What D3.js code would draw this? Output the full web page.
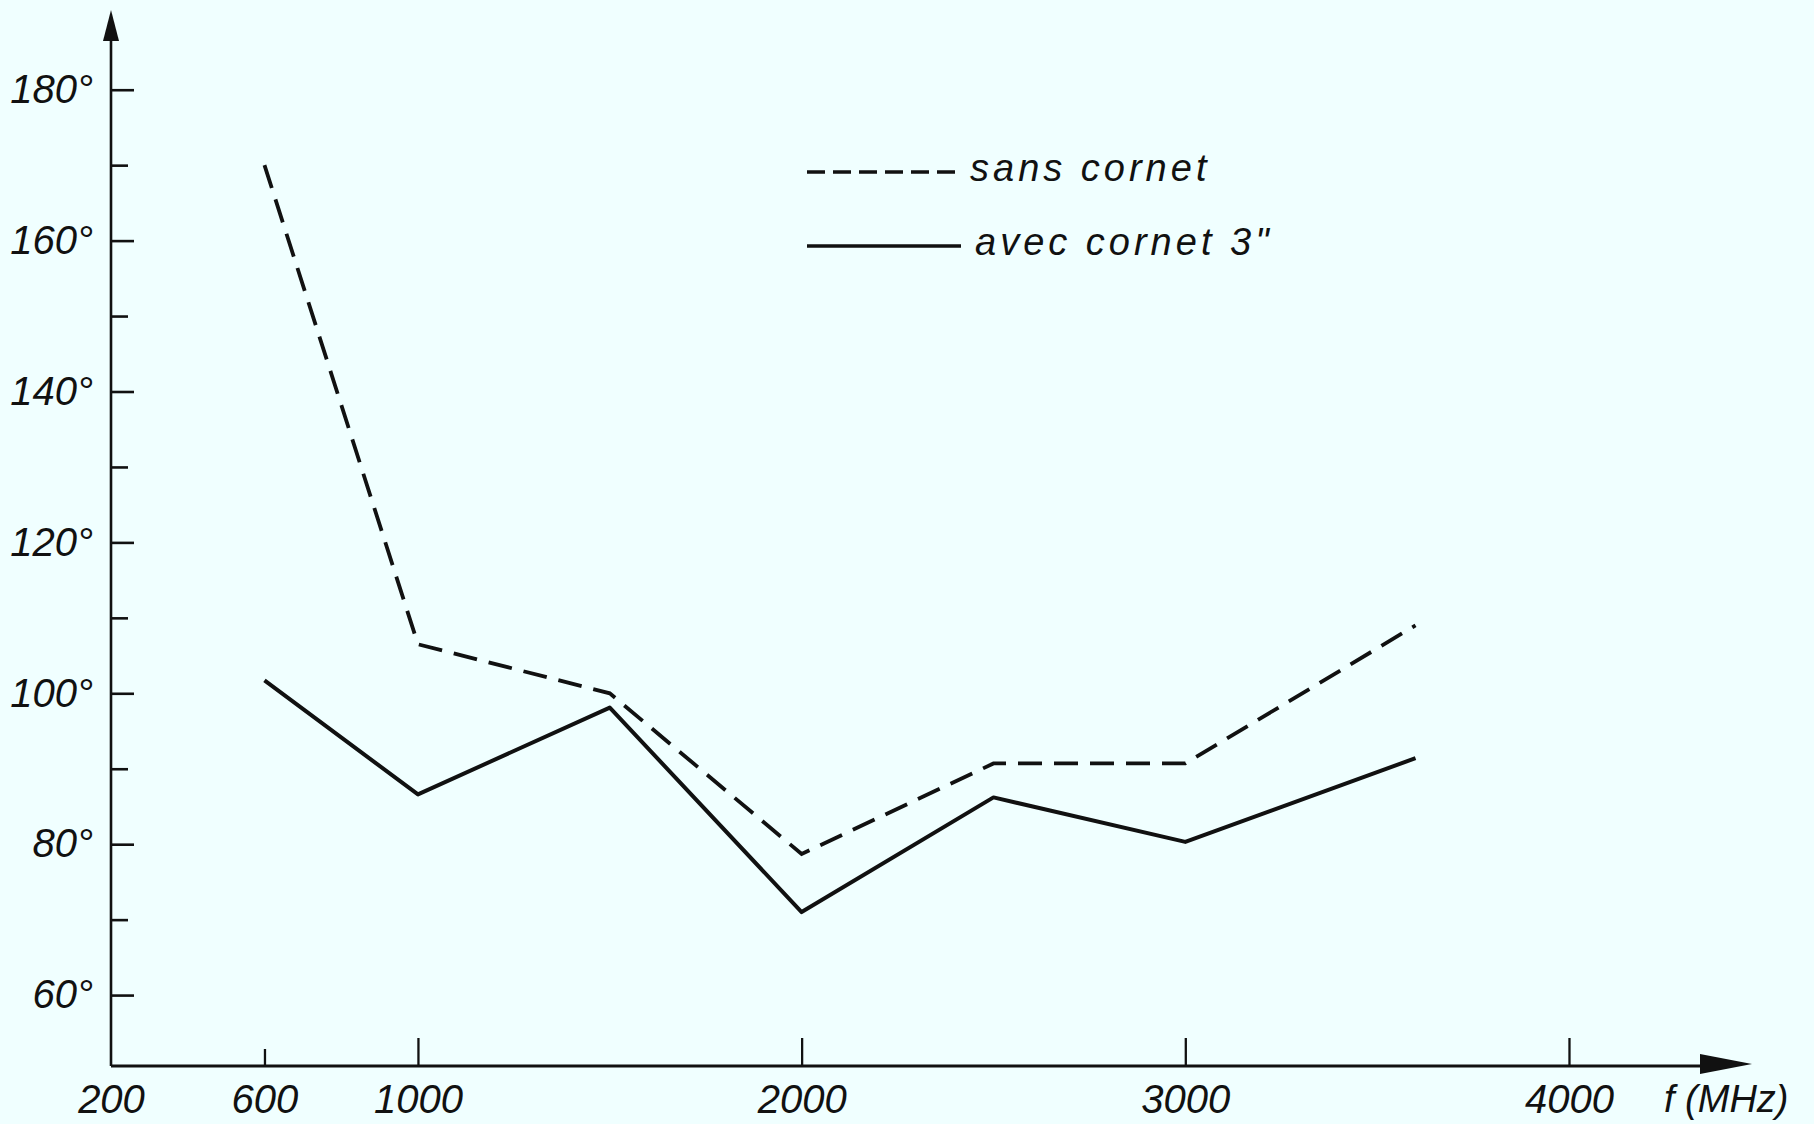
<!DOCTYPE html>
<html>
<head>
<meta charset="utf-8">
<script src="https://cdn.jsdelivr.net/npm/d3@7"></script>
<style>
  body { margin: 0; background: #f0ffff; }
  svg { display: block; background: #f0ffff; }
  .lbl { font-family: "Liberation Sans", sans-serif; font-style: italic; fill: #111; }
  .ylbl { font-family: "Liberation Sans", sans-serif; font-style: italic; fill: #111; }
</style>
</head>
<body>
<div id="chart"></div>
<script>
const width = 1814,
    height = 1124;

// frequencies (MHz) where both curves were measured
const freqs = [600, 1000, 1500, 2000, 2500, 3000, 3600];
// angle (degrees) without horn
const sansCornet = [170, 106.5, 100, 78.7, 90.7, 90.7, 109];
// angle (degrees) with 3" horn
const avecCornet = [101.7, 86.6, 98.1, 71, 86.2, 80.3, 91.4];

const xTicks = [200, 600, 1000, 2000, 3000, 4000];
const yMajorTicks = [60, 80, 100, 120, 140, 160, 180];
const yMinorTicks = [70, 90, 110, 130, 150, 170];
const seriesNames = ["sans cornet", "avec cornet 3\""];
const xTitle = "f (MHz)";

const svg = d3.select("#chart")
    .append("svg")
    .attr("width", width)
    .attr("height", height);

// scales fitted to the paper drawing
let x = d3.scaleLinear()
    .domain([200, 4477])
    .range([111, 1752]);

let y = d3.scaleLinear()
    .domain([50.6, 190.3])
    .range([1066, 12]);

const x0 = x(200), yBase = y(50.6);

// y axis: major ticks with labels
let gy = svg.append("g")
    .attr("transform", `translate(${x0},0)`)
    .call(d3.axisLeft(y)
        .tickValues(yMajorTicks)
        .tickSize(-23)
        .tickPadding(18)
        .tickFormat(d => d + "°"));
gy.select(".domain").remove();
gy.selectAll(".tick line").attr("stroke", "#111").attr("stroke-width", 2.6);
gy.selectAll(".tick text")
    .attr("class", "ylbl")
    .attr("font-size", 40)
    .attr("fill", "#111");

// y axis: minor ticks
let gy2 = svg.append("g")
    .attr("transform", `translate(${x0},0)`)
    .call(d3.axisLeft(y)
        .tickValues(yMinorTicks)
        .tickSize(-17)
        .tickFormat(""));
gy2.select(".domain").remove();
gy2.selectAll(".tick line").attr("stroke", "#111").attr("stroke-width", 2.6);

// x axis
let gx = svg.append("g")
    .attr("transform", `translate(0,${yBase})`)
    .call(d3.axisBottom(x)
        .tickValues(xTicks)
        .tickSize(-28)
        .tickPadding(19)
        .tickFormat(d => d));
gx.select(".domain").remove();
gx.selectAll(".tick line")
    .attr("y2", d => d == 200 ? 0 : (d == 600 ? -17 : -28))
    .attr("stroke", "#111")
    .attr("stroke-width", 2.3);
gx.selectAll(".tick text")
    .attr("class", "lbl")
    .attr("font-size", 40)
    .attr("fill", "#111");

// axis lines with arrow heads
svg.append("line")
    .attr("x1", x0).attr("y1", yBase)
    .attr("x2", x0).attr("y2", 36)
    .attr("stroke", "#111").attr("stroke-width", 2.6);
svg.append("path")
    .attr("d", `M${x0},10 L${x0 - 8},41 L${x0 + 8},41 Z`)
    .attr("fill", "#111");

svg.append("line")
    .attr("x1", x0).attr("y1", yBase)
    .attr("x2", 1720).attr("y2", yBase)
    .attr("stroke", "#111").attr("stroke-width", 2.8);
svg.append("path")
    .attr("d", `M1752,${yBase - 2} L1700,${yBase - 12} L1700,${yBase + 8} Z`)
    .attr("fill", "#111");

svg.append("text")
    .attr("class", "lbl")
    .attr("x", 1664)
    .attr("y", 1112)
    .attr("font-size", 38)
    .text(xTitle);

// curves
let line = d3.line()
    .x((d, i) => x(freqs[i]))
    .y(d => y(d));

svg.append("path")
    .datum(sansCornet)
    .attr("d", line)
    .attr("fill", "none")
    .attr("stroke", "#111")
    .attr("stroke-width", 3.8)
    .attr("stroke-dasharray", "24,12");

svg.append("path")
    .datum(avecCornet)
    .attr("d", line)
    .attr("fill", "none")
    .attr("stroke", "#111")
    .attr("stroke-width", 4)
    .attr("stroke-linejoin", "round");

// legend
const legendY = [172, 246];
seriesNames.forEach((name, i) => {
    svg.append("line")
        .attr("x1", 807).attr("x2", 961)
        .attr("y1", legendY[i]).attr("y2", legendY[i])
        .attr("stroke", "#111")
        .attr("stroke-width", 3.6)
        .attr("stroke-dasharray", i == 0 ? "18,8" : null);
    svg.append("text")
        .attr("class", "ylbl")
        .attr("x", i == 0 ? 970 : 975)
        .attr("y", legendY[i] + 9)
        .attr("font-size", 38)
        .attr("letter-spacing", 4)
        .text(name);
});
</script>
</body>
</html>
